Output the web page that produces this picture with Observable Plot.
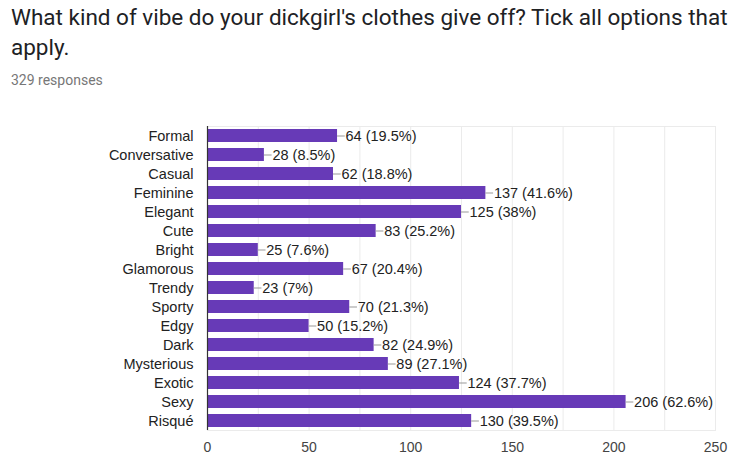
<!DOCTYPE html>
<html>
<head>
<meta charset="utf-8">
<script src="https://cdn.jsdelivr.net/npm/d3@7"></script>
<script src="https://cdn.jsdelivr.net/npm/@observablehq/plot@0.6"></script>
<style>
  body { margin: 0; background: #fff; width: 750px; height: 474px; overflow: hidden; }
  #title { font-family: Roboto, sans-serif; font-size: 22.5px; line-height: 30px; color: #202124; padding: 2px 0 0 11px; width: 739px; }
  #sub { font-family: Roboto, sans-serif; font-size: 14px; color: #777; padding: 10px 0 0 11px; height: 20px; }
</style>
</head>
<body>
<div id="title">What kind of vibe do your dickgirl's clothes give off? Tick all options that apply.</div>
<div id="sub">329 responses</div>
<div id="chart"></div>
<script>
const categories = ["Formal","Conversative","Casual","Feminine","Elegant","Cute","Bright","Glamorous","Trendy","Sporty","Edgy","Dark","Mysterious","Exotic","Sexy","Risqué"];
const counts = [64,28,62,137,125,83,25,67,23,70,50,82,89,124,206,130];
const percents = ["19.5%","8.5%","18.8%","41.6%","38%","25.2%","7.6%","20.4%","7%","21.3%","15.2%","24.9%","27.1%","37.7%","62.6%","39.5%"];
const xTicks = [0,50,100,150,200,250];
const gridTicks = [25,50,75,100,125,150,175,200,225,250];

const data = categories.map((c, i) => ({category: c, value: counts[i], label: `${counts[i]} (${percents[i]})`}));

const chart = Plot.plot({
  width: 750,
  height: 382,
  marginLeft: 207,
  marginRight: 35,
  marginTop: 34,
  marginBottom: 44,
  style: {fontFamily: "'Liberation Sans', Arial, sans-serif", fontSize: "14px", color: "#222", background: "#fff"},
  x: {domain: [0, 250], ticks: xTicks, label: null},
  y: {domain: categories, paddingInner: 0.32, paddingOuter: 0.16, label: null},
  marks: [
    Plot.frame({stroke: "#ebebeb"}),
    Plot.ruleX(gridTicks, {stroke: "#ebebeb"}),
    Plot.barX(data, {x: "value", y: "category", fill: "#673ab7"}),
    Plot.ruleY(data, {y: "category", x1: "value", x2: d => d.value + 3.8, stroke: "#999", strokeWidth: 1}),
    Plot.text(data, {x: "value", y: "category", text: "label", dx: 8, textAnchor: "start", fill: "#222", fontSize: 14.5}),
    Plot.ruleX([0], {stroke: "#333", strokeWidth: 1.2}),
    Plot.axisX(xTicks, {tickSize: 0, tickPadding: 12, fill: "#444", fontSize: 14}),
    Plot.axisY({tickSize: 0, tickPadding: 14, fill: "#222", fontSize: 14.5})
  ]
});
document.getElementById("chart").appendChild(chart);
</script>
</body>
</html>
